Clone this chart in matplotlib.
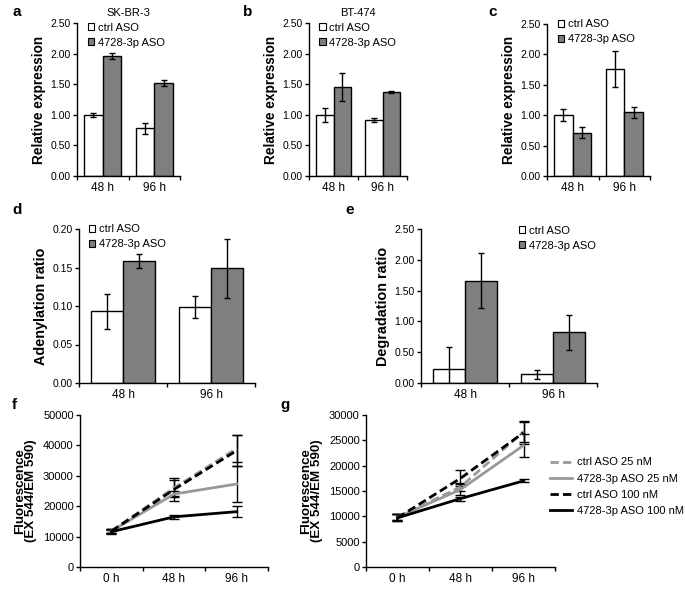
import matplotlib
matplotlib.use("Agg")
import matplotlib.pyplot as plt
import numpy as np
from matplotlib.patches import Patch
from matplotlib.lines import Line2D

plt.rcParams['font.family'] = ['Liberation Sans', 'DejaVu Sans']

W, H = 685, 589

# ---------------- data ----------------
bar_groups = ["48 h", "96 h"]
bar_series = ["ctrl ASO", "4728-3p ASO"]

a_ctrl = [1.00, 0.78]; a_ctrl_err = [0.03, 0.09]
a_aso = [1.96, 1.52];  a_aso_err = [0.05, 0.05]

b_ctrl = [1.00, 0.92]; b_ctrl_err = [0.11, 0.03]
b_aso = [1.45, 1.37];  b_aso_err = [0.23, 0.02]

c_ctrl = [1.00, 1.76]; c_ctrl_err = [0.10, 0.30]
c_aso = [0.71, 1.05];  c_aso_err = [0.09, 0.09]

d_ctrl = [0.093, 0.099]; d_ctrl_err = [0.023, 0.014]
d_aso = [0.158, 0.149];  d_aso_err = [0.009, 0.038]

e_ctrl = [0.22, 0.14]; e_ctrl_err = [0.37, 0.07]
e_aso = [1.66, 0.82];  e_aso_err = [0.45, 0.29]

time_labels = ["0 h", "48 h", "96 h"]
line_series = ["ctrl ASO 25 nM", "4728-3p ASO 25 nM", "ctrl ASO 100 nM", "4728-3p ASO 100 nM"]

f_ctrl25 = [11800, 26000, 39000];   f_ctrl25_err = [700, 2500, 4500]
f_aso25 = [11800, 24000, 27300];    f_aso25_err = [700, 1000, 5800]
f_ctrl100 = [11800, 25500, 38300];  f_ctrl100_err = [700, 3800, 5000]
f_aso100 = [11600, 16500, 18200];   f_aso100_err = [700, 700, 1800]

g_ctrl25 = [9800, 15800, 26700];    g_ctrl25_err = [600, 800, 2000]
g_aso25 = [9800, 15300, 24000];     g_aso25_err = [600, 1000, 2300]
g_ctrl100 = [9700, 17500, 26500];   g_ctrl100_err = [700, 1600, 2300]
g_aso100 = [9700, 13500, 17000];    g_aso100_err = [700, 400, 300]

GRAY_BAR = "#7f7f7f"
GRAY_LINE = "#999999"

fig = plt.figure(figsize=(W / 100, H / 100), dpi=100)


def ax_px(l, t, r, b):
    return fig.add_axes([l / W, 1 - b / H, (r - l) / W, (b - t) / H])


def style(ax, ysize=7.5, xsize=8.5):
    for s in ["top", "right"]:
        ax.spines[s].set_visible(False)
    for s in ["left", "bottom"]:
        ax.spines[s].set_linewidth(1.0)
    ax.tick_params(axis="y", direction="out", length=3, width=1, labelsize=ysize, pad=1.5)
    ax.tick_params(axis="x", which="major", length=0, labelsize=xsize, pad=4)
    ax.tick_params(axis="x", which="minor", direction="out", length=3, width=1)


def bar_panel(ax, ctrl, ctrl_err, aso, aso_err, ymax, ylabel, legend_loc):
    x = np.arange(len(bar_groups))
    w = 0.36
    kw = dict(edgecolor="black", linewidth=1.0, zorder=2)
    ax.bar(x - w / 2, ctrl, w, color="white", **kw)
    ax.bar(x + w / 2, aso, w, color=GRAY_BAR, **kw)
    ekw = dict(fmt="none", ecolor="black", elinewidth=1.0, capsize=2.5, capthick=1.0, zorder=3)
    ax.errorbar(x - w / 2, ctrl, yerr=ctrl_err, **ekw)
    ax.errorbar(x + w / 2, aso, yerr=aso_err, **ekw)
    ax.set_xlim(-0.5, len(bar_groups) - 0.5)
    ax.set_ylim(0, ymax)
    ax.set_xticks(x)
    ax.set_xticklabels(bar_groups)
    ax.set_xticks(np.arange(-0.5, len(bar_groups)), minor=True)
    ax.set_ylabel(ylabel, fontsize=9.8, fontweight="bold", labelpad=3)
    style(ax)
    handles = [Patch(facecolor="white", edgecolor="black", linewidth=0.8),
               Patch(facecolor=GRAY_BAR, edgecolor="black", linewidth=0.8)]
    ax.legend(handles, bar_series, frameon=False, fontsize=8, loc="upper left",
              bbox_to_anchor=legend_loc, handlelength=0.6, handleheight=0.6,
              handletextpad=0.3, labelspacing=0.45, borderaxespad=0)


def fmt2(ax):
    ax.yaxis.set_major_formatter(matplotlib.ticker.FormatStrFormatter("%.2f"))


# ---- panel a ----
ax = ax_px(77, 23, 180, 176)
bar_panel(ax, a_ctrl, a_ctrl_err, a_aso, a_aso_err, 2.5, "Relative expression", (0.06, 1.03))
ax.set_yticks(np.arange(0, 2.51, 0.5)); fmt2(ax)
ax.set_title("SK-BR-3", fontsize=8, pad=5)

# ---- panel b ----
ax = ax_px(309, 23, 407, 176)
bar_panel(ax, b_ctrl, b_ctrl_err, b_aso, b_aso_err, 2.5, "Relative expression", (0.06, 1.03))
ax.set_yticks(np.arange(0, 2.51, 0.5)); fmt2(ax)
ax.set_title("BT-474", fontsize=8, pad=5)

# ---- panel c ----
ax = ax_px(547, 24, 650, 176)
bar_panel(ax, c_ctrl, c_ctrl_err, c_aso, c_aso_err, 2.5, "Relative expression", (0.06, 1.06))
ax.set_yticks(np.arange(0, 2.51, 0.5)); fmt2(ax)

# ---- panel d ----
ax = ax_px(79, 229, 255, 383)
bar_panel(ax, d_ctrl, d_ctrl_err, d_aso, d_aso_err, 0.2, "Adenylation ratio", (0.03, 1.06))
ax.set_yticks(np.arange(0, 0.201, 0.05)); fmt2(ax)
ax.yaxis.label.set_size(10.4)

# ---- panel e ----
ax = ax_px(421, 229, 597, 383)
bar_panel(ax, e_ctrl, e_ctrl_err, e_aso, e_aso_err, 2.5, "Degradation ratio", (0.53, 1.05))
ax.set_yticks(np.arange(0, 2.51, 0.5)); fmt2(ax)
ax.yaxis.label.set_size(10.4)


# ---- line panels ----
def line_panel(ax, series, ymax, ystep):
    x = np.arange(len(time_labels))
    styles = [dict(color=GRAY_LINE, ls=(0, (3, 1.5))),
              dict(color=GRAY_LINE, ls="-"),
              dict(color="black", ls=(0, (3, 1.5))),
              dict(color="black", ls="-")]
    for (vals, errs), st in zip(series, styles):
        ax.errorbar(x, vals, yerr=errs, color=st["color"], ls=st["ls"], lw=2.0,
                    ecolor="black", elinewidth=1.0, capsize=3.5, capthick=1.0)
    ax.set_xlim(-0.5, len(time_labels) - 0.5)
    ax.set_ylim(0, ymax)
    ax.set_yticks(np.arange(0, ymax + 1, ystep))
    ax.set_xticks(x)
    ax.set_xticklabels(time_labels)
    ax.set_xticks(np.arange(-0.5, len(time_labels)), minor=True)
    ax.set_ylabel("Fluorescence\n(EX 544/EM 590)", fontsize=9.6, fontweight="bold",
                  labelpad=4, linespacing=0.95)
    style(ax, ysize=8, xsize=8.5)


ax = ax_px(80, 415, 268, 567)
line_panel(ax, [(f_ctrl25, f_ctrl25_err), (f_aso25, f_aso25_err),
                (f_ctrl100, f_ctrl100_err), (f_aso100, f_aso100_err)], 50000, 10000)

ax = ax_px(366, 415, 555, 567)
line_panel(ax, [(g_ctrl25, g_ctrl25_err), (g_aso25, g_aso25_err),
                (g_ctrl100, g_ctrl100_err), (g_aso100, g_aso100_err)], 30000, 5000)

handles = [Line2D([], [], color=GRAY_LINE, ls=(0, (3, 1.5)), lw=2),
           Line2D([], [], color=GRAY_LINE, ls="-", lw=2),
           Line2D([], [], color="black", ls=(0, (3, 1.5)), lw=2),
           Line2D([], [], color="black", ls="-", lw=2)]
fig.legend(handles, line_series, frameon=False, fontsize=8, loc="upper left",
           bbox_to_anchor=(546 / W, 1 - 453 / H), handlelength=1.9,
           handletextpad=0.5, labelspacing=0.55, borderaxespad=0)

# ---- panel letters ----
for letter, (px, py) in {"a": (12, 12), "b": (243, 12), "c": (488, 12),
                         "d": (12, 210), "e": (345, 210), "f": (12, 405),
                         "g": (280, 405)}.items():
    fig.text(px / W, 1 - py / H, letter, fontsize=11, fontweight="bold",
             ha="left", va="center")

fig.savefig("out.png", dpi=100)
